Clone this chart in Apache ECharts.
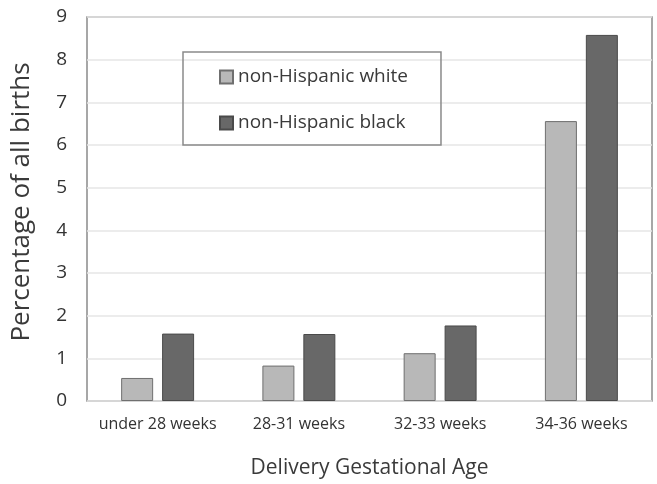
<!DOCTYPE html>
<html>
<head>
<meta charset="utf-8">
<script src="https://cdn.jsdelivr.net/npm/echarts@6/dist/echarts.min.js"></script>
<style>
html, body { margin: 0; padding: 0; background: #fff; }
#chart { width: 657px; height: 484px; }
</style>
</head>
<body>
<div id="chart"></div>
<script>
// data
const categories = ['under 28 weeks', '28-31 weeks', '32-33 weeks', '34-36 weeks'];
const whiteValues = [0.54, 0.83, 1.12, 6.56];
const blackValues = [1.58, 1.57, 1.77, 8.58];
const seriesNames = ['non-Hispanic white', 'non-Hispanic black'];
const yTitle = 'Percentage of all births';
const xTitle = 'Delivery Gestational Age';

const font = 'Open Sans';
const textColor = '#3a3a3a';
const chart = echarts.init(document.getElementById('chart'));

chart.setOption({
    animation: false,
    textStyle: { fontFamily: font },
    grid: {
        left: 87, right: 5, top: 17, bottom: 80,
        show: true,
        borderColor: '#8a8a8a',
        borderWidth: 1.5,
    },
    legend: {
        orient: 'vertical',
        left: 183,
        top: 52,
        padding: [15, 33, 12, 36],
        itemGap: 26,
        itemWidth: 13,
        itemHeight: 13,
        icon: 'rect',
        borderColor: '#8a8a8a',
        borderWidth: 1.5,
        textStyle: { fontSize: 19, lineHeight: 20, color: textColor, fontFamily: font },
        data: seriesNames,
    },
    // rotated y title placed a little above the plot middle, as in the source
    graphic: [
        {
            type: 'text',
            x: 22,
            y: 202,
            rotation: Math.PI / 2,
            style: {
                text: yTitle,
                fontSize: 26,
                fontFamily: font,
                fill: textColor,
                textAlign: 'center',
                textVerticalAlign: 'middle',
            },
        },
    ],
    xAxis: {
        type: 'category',
        data: categories,
        axisLine: { show: false },
        axisTick: { show: false },
        axisLabel: { interval: 0, fontSize: 16, color: '#333', margin: 15 },
        name: xTitle,
        nameLocation: 'middle',
        nameGap: 57,
        nameTextStyle: { fontSize: 21, color: textColor },
    },
    yAxis: {
        type: 'value',
        min: 0,
        max: 9,
        interval: 1,
        axisLine: { show: false },
        axisTick: { show: false },
        splitLine: { lineStyle: { color: '#e6e6e6', width: 1.5 } },
        axisLabel: { fontSize: 19, color: '#333', margin: 20 },
    },
    series: [
        {
            name: seriesNames[0],
            type: 'bar',
            data: whiteValues,
            barWidth: 32,
            barGap: '28%',
            itemStyle: { color: '#b8b8b8', borderColor: '#6f6f6f', borderWidth: 1 },
        },
        {
            name: seriesNames[1],
            type: 'bar',
            data: blackValues,
            barWidth: 32,
            itemStyle: { color: '#686868', borderColor: '#4a4a4a', borderWidth: 1 },
        },
    ],
});
</script>
</body>
</html>
